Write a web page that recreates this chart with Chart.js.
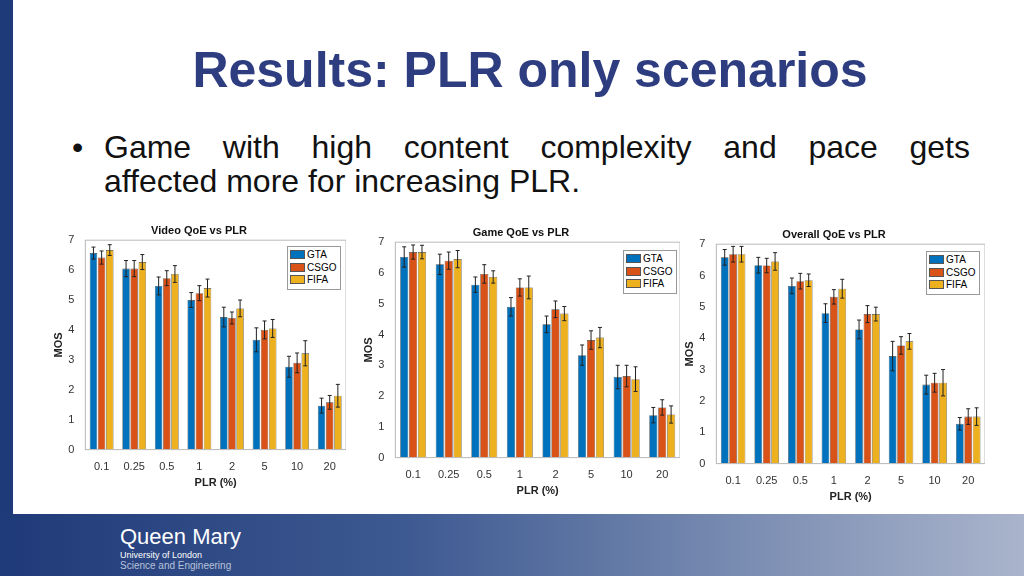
<!DOCTYPE html>
<html>
<head>
<meta charset="utf-8">
<script src="https://cdn.jsdelivr.net/npm/chart.js@4"></script>
<style>
  body { margin: 0; width: 1024px; height: 576px; position: relative; overflow: hidden; background: #fff; font-family: "Liberation Sans", Arial, sans-serif; }
  #sidebar { position: absolute; left: 0; top: 0; width: 13px; height: 514px; background: #1f3a78; }
  #footer { position: absolute; left: 0; top: 514px; width: 1024px; height: 62px; background: linear-gradient(90deg, #1f3a78 0%, #3e5a92 40%, #7e90b4 75%, #aab4cc 100%); }
  #title { position: absolute; left: 0; width: 1060px; top: 41px; text-align: center; font-size: 50px; font-weight: bold; color: #2e3d80; }
  #bullet { position: absolute; left: 72px; top: 130px; font-size: 32px; color: #111; line-height: 34px; }
  #bullet .b { position: absolute; left: 0; top: 0; }
  #bullet .t { margin-left: 32px; width: 866px; }
  #bullet .l1 { text-align: justify; text-align-last: justify; }
  .box { position: absolute; }
  .legend { position: absolute; border: 1px solid #999; background: #fff; font-size: 10px; padding: 2px 4px 2px 2px; line-height: 12.5px; }
  .legend span { display: inline-block; width: 15px; height: 9px; margin-right: 2px; vertical-align: -1px; border: 1px solid #555; box-sizing: border-box; }
  #logo { position: absolute; left: 120px; top: 524px; color: #fff; }
  #logo .q { font-size: 22px; font-weight: 300; }
  #logo .u { font-size: 9px; }
  #logo .s { font-size: 10px; color: #b8c2da; }
</style>
</head>
<body>
<div id="sidebar"></div>
<div id="title">Results: PLR only scenarios</div>
<div id="bullet"><span class="b">•</span><div class="t"><div class="l1">Game with high content complexity and pace gets</div><div>affected more for increasing PLR.</div></div></div>

<canvas id="c1" class="box" width="294" height="268" style="left:52px;top:222px"></canvas>
<canvas id="c2" class="box" width="318" height="274" style="left:362px;top:224px"></canvas>
<canvas id="c3" class="box" width="302" height="278" style="left:683px;top:226px"></canvas>

<div class="legend" style="left:287px;top:246px"><div><span style="background:#0072BD"></span>GTA</div><div><span style="background:#D95319"></span>CSGO</div><div><span style="background:#EDB120"></span>FIFA</div></div>
<div class="legend" style="left:623px;top:250px"><div><span style="background:#0072BD"></span>GTA</div><div><span style="background:#D95319"></span>CSGO</div><div><span style="background:#EDB120"></span>FIFA</div></div>
<div class="legend" style="left:926px;top:251px"><div><span style="background:#0072BD"></span>GTA</div><div><span style="background:#D95319"></span>CSGO</div><div><span style="background:#EDB120"></span>FIFA</div></div>

<div id="footer"></div>
<div id="logo"><div class="q">Queen Mary</div><div class="u">University of London</div><div class="s">Science and Engineering</div></div>

<script>
const plr = ['0.1', '0.25', '0.5', '1', '2', '5', '10', '20'];
const seriesNames = ['GTA', 'CSGO', 'FIFA'];
const seriesColors = ['#0072BD', '#D95319', '#EDB120'];

// Video QoE
const videoGta  = [6.57, 6.05, 5.47, 5.0, 4.43, 3.67, 2.77, 1.47];
const videoCsgo = [6.42, 6.05, 5.73, 5.23, 4.4, 4.0, 2.9, 1.58];
const videoFifa = [6.67, 6.27, 5.87, 5.4, 4.72, 4.05, 3.22, 1.8];
const videoErrGta  = [0.2, 0.27, 0.3, 0.25, 0.33, 0.4, 0.35, 0.25];
const videoErrCsgo = [0.22, 0.27, 0.25, 0.25, 0.2, 0.3, 0.33, 0.23];
const videoErrFifa = [0.18, 0.25, 0.28, 0.3, 0.28, 0.3, 0.42, 0.38];

// Game QoE
const gameGta  = [6.52, 6.28, 5.62, 4.9, 4.33, 3.33, 2.62, 1.38];
const gameCsgo = [6.68, 6.4, 5.97, 5.53, 4.82, 3.82, 2.65, 1.63];
const gameFifa = [6.68, 6.45, 5.87, 5.53, 4.68, 3.9, 2.55, 1.4];
const gameErrGta  = [0.33, 0.33, 0.25, 0.3, 0.27, 0.33, 0.38, 0.25];
const gameErrCsgo = [0.23, 0.28, 0.3, 0.28, 0.27, 0.3, 0.35, 0.25];
const gameErrFifa = [0.22, 0.28, 0.2, 0.37, 0.23, 0.33, 0.4, 0.28];

// Overall QoE
const overallGta  = [6.58, 6.33, 5.67, 4.8, 4.28, 3.43, 2.52, 1.27];
const overallCsgo = [6.68, 6.32, 5.82, 5.32, 4.77, 3.77, 2.58, 1.5];
const overallFifa = [6.68, 6.45, 5.85, 5.58, 4.77, 3.9, 2.58, 1.5];
const overallErrGta  = [0.25, 0.25, 0.25, 0.3, 0.3, 0.47, 0.3, 0.2];
const overallErrCsgo = [0.25, 0.23, 0.25, 0.23, 0.27, 0.28, 0.3, 0.25];
const overallErrFifa = [0.25, 0.28, 0.2, 0.3, 0.22, 0.25, 0.42, 0.28];

// draws error bars and the box around the plot
const errorBars = {
  id: 'errorBars',
  afterDatasetsDraw(chart) {
    const c = chart.ctx, y = chart.scales.y;
    c.save();
    c.strokeStyle = '#222';
    c.lineWidth = 1;
    chart.data.datasets.forEach((ds, i) => {
      chart.getDatasetMeta(i).data.forEach((bar, j) => {
        const v = ds.data[j], e = ds.err[j];
        const top = y.getPixelForValue(v + e), bot = y.getPixelForValue(v - e);
        c.beginPath();
        c.moveTo(bar.x, top); c.lineTo(bar.x, bot);
        c.moveTo(bar.x - 2, top); c.lineTo(bar.x + 2, top);
        c.moveTo(bar.x - 2, bot); c.lineTo(bar.x + 2, bot);
        c.stroke();
      });
    });
    const a = chart.chartArea;
    c.strokeStyle = '#bbb';
    c.strokeRect(a.left, a.top, a.right - a.left, a.bottom - a.top);
    c.restore();
  }
};

function makeChart(id, titulo, vals, errs) {
  new Chart(document.getElementById(id), {
    type: 'bar',
    data: {
      labels: plr,
      datasets: vals.map((v, i) => ({
        label: seriesNames[i], data: v, err: errs[i],
        backgroundColor: seriesColors[i], borderColor: '#444', borderWidth: 0.6,
        categoryPercentage: 0.75, barPercentage: 0.92
      }))
    },
    options: {
      responsive: false,
      animation: false,
      plugins: {
        legend: { display: false },
        tooltip: { enabled: false },
        title: { display: true, text: titulo, color: '#111', font: { size: 11, weight: 'bold' }, padding: { top: 2, bottom: 3 } }
      },
      scales: {
        x: {
          grid: { display: false },
          ticks: { color: '#333', font: { size: 11 } },
          title: { display: true, text: 'PLR (%)', color: '#222', font: { size: 11, weight: 'bold' }, padding: 0 }
        },
        y: {
          min: 0, max: 7,
          grid: { display: false },
          ticks: { stepSize: 1, color: '#333', font: { size: 11 } },
          title: { display: true, text: 'MOS', color: '#222', font: { size: 11, weight: 'bold' }, padding: 0 }
        }
      }
    },
    plugins: [errorBars]
  });
}

makeChart('c1', 'Video QoE vs PLR', [videoGta, videoCsgo, videoFifa], [videoErrGta, videoErrCsgo, videoErrFifa]);
makeChart('c2', 'Game QoE vs PLR', [gameGta, gameCsgo, gameFifa], [gameErrGta, gameErrCsgo, gameErrFifa]);
makeChart('c3', 'Overall QoE vs PLR', [overallGta, overallCsgo, overallFifa], [overallErrGta, overallErrCsgo, overallErrFifa]);
</script>
</body>
</html>
